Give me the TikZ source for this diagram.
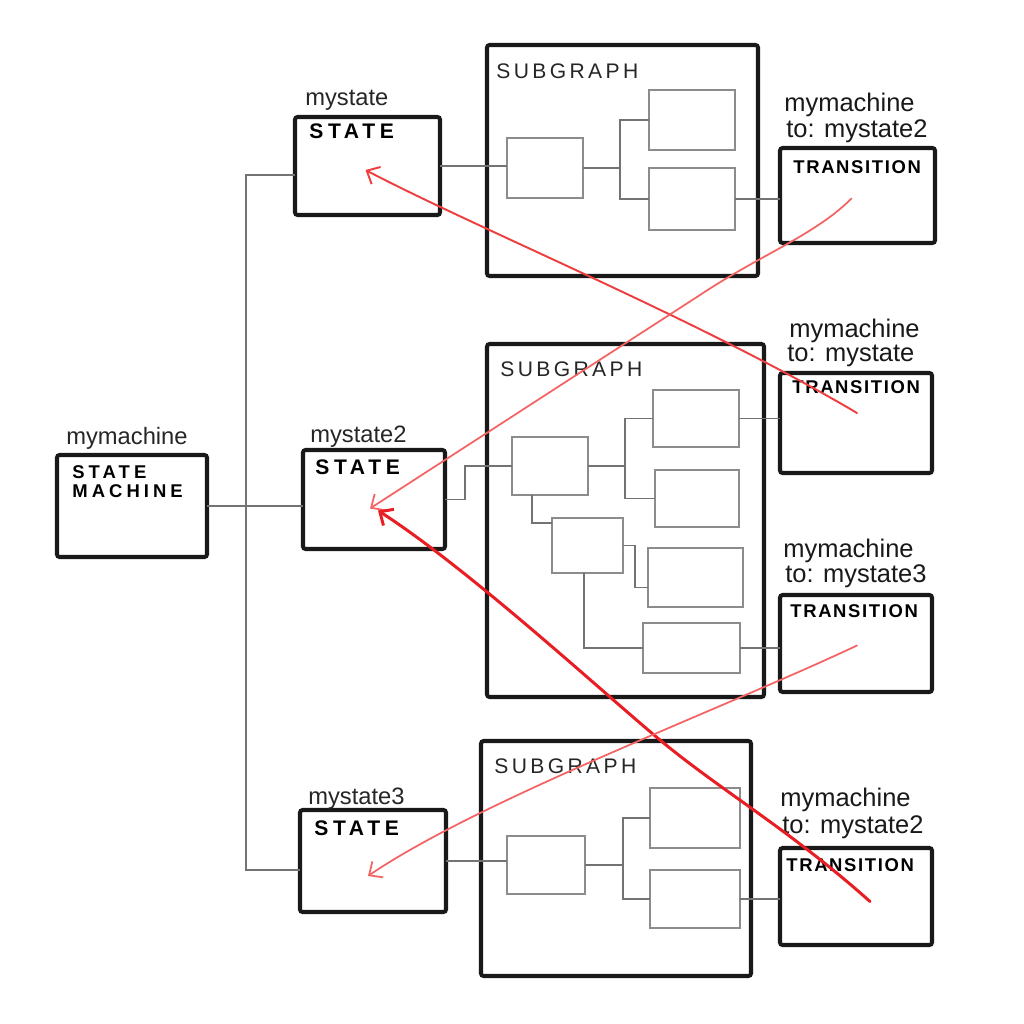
\documentclass[tikz,border=0pt]{standalone}
\usepackage{fontspec}
\setmainfont{Liberation Sans}
\newfontfamily\capsfont[LetterSpace=22]{Liberation Sans}
\newfontfamily\transfont[LetterSpace=9]{Liberation Sans}
\newfontfamily\subfont[LetterSpace=16]{Liberation Sans}
\usetikzlibrary{fit,arrows.meta,calc}
\definecolor{redstrong}{RGB}{232,30,36}
\definecolor{redmid}{RGB}{238,62,62}
\definecolor{redlight}{RGB}{244,100,100}
\begin{document}
\begin{tikzpicture}[x=0.02cm,y=-0.02cm,
  bbox/.style={draw=black!90, line width=2.3pt, inner sep=0pt, outer sep=0pt, rounded corners=1.5pt},
  gbox/.style={draw=black!45, line width=0.8pt, inner sep=0pt, outer sep=0pt},
  conn/.style={draw=black!55, line width=0.8pt},
  hand/.style={inner sep=0pt, anchor=base west, text=black!85, font=\fontsize{13.5}{14}\selectfont},
  handT/.style={inner sep=0pt, anchor=base west, text=black!90, font=\fontsize{14.5}{15}\selectfont},
  capS/.style={inner sep=0pt, anchor=north west, text=black, align=left, font=\capsfont\bfseries\fontsize{12}{13}\selectfont},
  capM/.style={inner sep=0pt, anchor=north west, text=black, align=left, font=\capsfont\bfseries\fontsize{10.5}{11}\selectfont},
  transT/.style={inner sep=0pt, anchor=north west, text=black, font=\transfont\bfseries\fontsize{10.5}{12}\selectfont},
  subT/.style={inner sep=0pt, anchor=north west, text=black!85, font=\subfont\fontsize{12}{13}\selectfont},
  redS/.style={draw=redstrong, line width=1.7pt, line cap=round, -{Straight Barb[length=6pt,width=11pt]}},
  redM/.style={draw=redmid, line width=1.1pt, line cap=round, -{Straight Barb[length=6pt,width=11pt]}},
  redL/.style={draw=redlight, line width=1.0pt, line cap=round, -{Straight Barb[length=6pt,width=11pt]}}
]
\useasboundingbox[fill=white] (0,0) rectangle (1024,1024);

% main boxes
\node[bbox, fit={(57,455)(207,557)}] (sm) {};
\node[bbox, fit={(295,117)(440,215)}] (s1) {};
\node[bbox, fit={(303,450)(445,549)}] (s2) {};
\node[bbox, fit={(300,810)(446,912)}] (s3) {};
\node[bbox, fit={(487,45)(758,276)}] (g1) {};
\node[bbox, fit={(487,344)(764,697)}] (g2) {};
\node[bbox, fit={(481,741)(751,976)}] (g3) {};
\node[bbox, fit={(780,148)(935,243)}] (t1) {};
\node[bbox, fit={(780,373)(932,473)}] (t2) {};
\node[bbox, fit={(780,595)(932,692)}] (t3) {};
\node[bbox, fit={(780,848)(932,945)}] (t4) {};

% inner boxes
\node[gbox, fit={(507,138)(583,198)}] (a1) {};
\node[gbox, fit={(649,90)(735,150)}] (b1) {};
\node[gbox, fit={(649,168)(735,230)}] (c1) {};
\node[gbox, fit={(512,437)(588,495)}] (a2) {};
\node[gbox, fit={(653,390)(739,447)}] (b2) {};
\node[gbox, fit={(655,470)(739,527)}] (c2) {};
\node[gbox, fit={(552,518)(623,573)}] (d2) {};
\node[gbox, fit={(648,548)(743,607)}] (e2) {};
\node[gbox, fit={(643,623)(740,673)}] (f2) {};
\node[gbox, fit={(507,836)(585,894)}] (a3) {};
\node[gbox, fit={(650,788)(740,848)}] (b3) {};
\node[gbox, fit={(650,870)(740,928)}] (c3) {};

% texts
\node[hand] (lsm) at (66,444) {mymachine};
\node[capM] (tsm) at (72,465) {STATE\\MACHINE};
\node[hand] (ls1) at (305,106) {mystate};
\node[hand] (ls2) at (310,442) {mystate2};
\node[hand] (ls3) at (308,804) {mystate3};
\node[capS] (ts1) at (309,123) {STATE};
\node[capS] (ts2) at (315,459) {STATE};
\node[capS] (ts3) at (314,820) {STATE};
\node[subT] (tg1) at (496,63) {SUBGRAPH};
\node[subT] (tg2) at (500,361) {SUBGRAPH};
\node[subT] (tg3) at (494,758) {SUBGRAPH};
\node[transT] (tt1) at (793,160) {TRANSITION};
\node[transT] (tt2) at (792,380) {TRANSITION};
\node[transT] (tt3) at (790,604) {TRANSITION};
\node[transT] (tt4) at (786,858) {TRANSITION};
\node[handT] (l1a) at (784,112) {mymachine};
\node[handT] (l1b) at (786,137) {to: mystate2};
\node[handT] (l2a) at (789,337) {mymachine};
\node[handT] (l2b) at (787,361) {to: mystate};
\node[handT] (l3a) at (783,557) {mymachine};
\node[handT] (l3b) at (785,582) {to: mystate3};
\node[handT] (l4a) at (780,806) {mymachine};
\node[handT] (l4b) at (782,833) {to: mystate2};

% gray connectors
\coordinate (bus) at (246,0);
\coordinate (j1) at (620,0);
\coordinate (j2) at (625,0);
\coordinate (j3) at (635,0);
\coordinate (j4) at (623,0);
\draw[conn] (sm.east) -- (sm.east -| s2.west);
\draw[conn] ([yshift=-0.18cm]s1.west) -- ([yshift=-0.18cm]s1.west -| bus) -- ([yshift=-0.18cm]s3.west -| bus) -- ([yshift=-0.18cm]s3.west);
\draw[conn] (s1.east) -- (s1.east -| a1.west);
\draw[conn] (a1.east) -- (a1.east -| j1);
\draw[conn] (b1.west) -- (b1.west -| j1) -- (c1.west -| j1) -- (c1.west);
\draw[conn] (c1.east) -- (c1.east -| t1.west);
\draw[conn] (s2.east) -- ++(20,0) |- (a2.west);
\draw[conn] (a2.east) -- (a2.east -| j2);
\draw[conn] (b2.west) -- (b2.west -| j2) -- (c2.west -| j2) -- (c2.west);
\draw[conn] ([xshift=0.4cm]a2.south west) |- ([yshift=-0.1cm]d2.north west);
\draw[conn] (d2.east) -- (d2.east -| j3) |- ([yshift=-0.2cm]e2.west);
\draw[conn] ([xshift=0.64cm]d2.south west) |- (f2.west);
\draw[conn] (b2.east) -- (b2.east -| t2.west);
\draw[conn] (f2.east) -- (f2.east -| t3.west);
\draw[conn] (s3.east) -- (s3.east -| a3.west);
\draw[conn] (a3.east) -- (a3.east -| j4);
\draw[conn] (b3.west) -- (b3.west -| j4) -- (c3.west -| j4) -- (c3.west);
\draw[conn] (c3.east) -- (c3.east -| t4.west);

% red transition arrows
\draw[redM] ([shift={(1,-10)}]t2.center) .. controls (700,320) and (480,230) .. ([shift={(-2,4)}]s1.center);
\draw[redL] ([shift={(-6,3)}]t1.center) .. controls (815,235) and (760,255) .. (700,295) -- ([shift={(-4,9)}]s2.center);
\draw[redS] ([shift={(14,5)}]t4.center) .. controls (790,830) and (720,790) .. (660,740) .. controls (600,690) and (470,570) .. ([shift={(4,11)}]s2.center);
\draw[redL] ([shift={(1,2)}]t3.center) .. controls (720,710) and (480,800) .. ([shift={(-5,15)}]s3.center);
\end{tikzpicture}
\end{document}
